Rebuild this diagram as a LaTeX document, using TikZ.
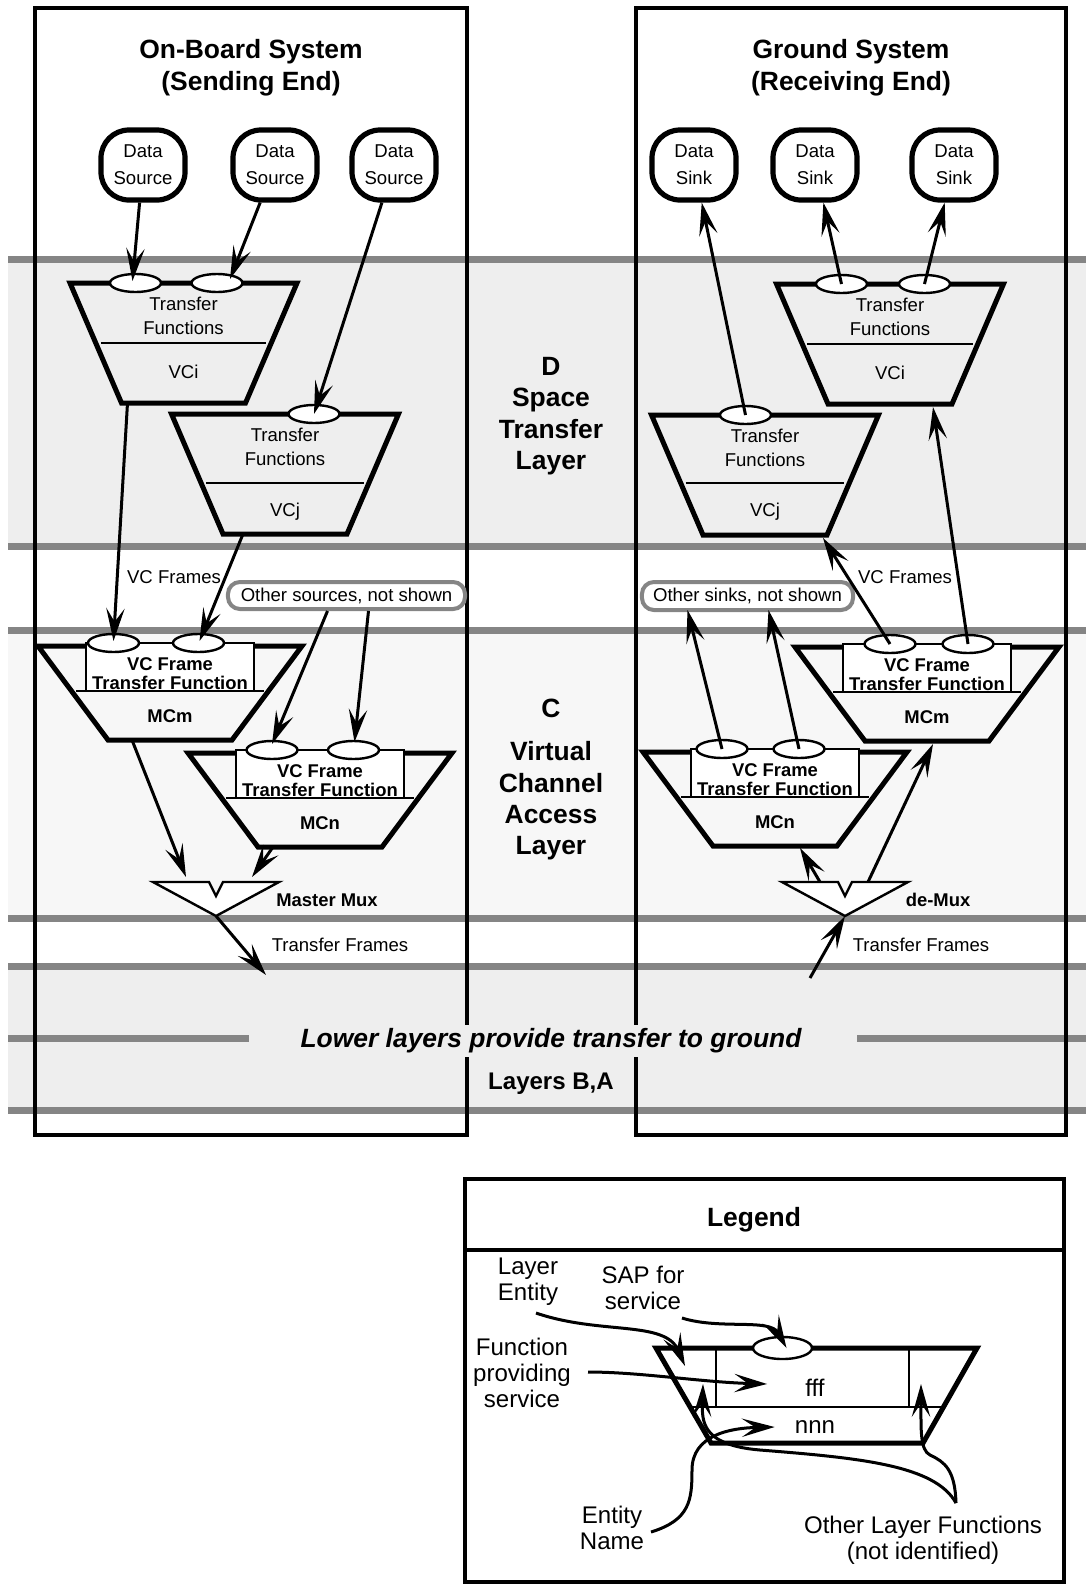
\documentclass[tikz,border=0pt]{standalone}
\usepackage{fontspec}
\setmainfont{Liberation Sans}
\usetikzlibrary{arrows.meta,calc,positioning,shapes.geometric}
\definecolor{layergray}{HTML}{858585}
\definecolor{bandD}{HTML}{EEEEEE}
\definecolor{bandC}{HTML}{F7F7F7}
\newcommand\hdfont{\fontsize{18.8}{22.3}\selectfont\bfseries}
\newcommand\txtfont{\fontsize{13.2}{17.1}\selectfont}
\newcommand\mcfont{\fontsize{13.1}{13.6}\selectfont\bfseries}
\newcommand\legfont{\fontsize{17.1}{18.5}\selectfont}

\begin{document}
\begin{tikzpicture}[x=0.025cm, y=-0.025cm,
    >={Stealth[length=0.82cm,width=0.46cm,inset=0.34cm]},
    sysbox/.style={line width=0.1cm},
    layerline/.style={draw=layergray, line width=0.175cm},
    entity/.style={line width=0.125cm},
    thinline/.style={line width=0.06cm},
    flow/.style={->, line width=0.075cm},
    endpoint/.style={draw, line width=0.13cm, rounded corners=0.7cm, minimum width=2.1cm, minimum height=1.75cm, align=center, inner sep=0pt, font=\fontsize{13.2}{19.2}\selectfont},
    sap/.style={draw, ellipse, fill=white, line width=0.06cm, minimum width=1.275cm, minimum height=0.45cm, inner sep=0pt},
    othbox/.style={draw=layergray, fill=white, line width=0.1cm, rounded corners=0.3cm, inner sep=0pt, font=\txtfont},
    txt/.style={font=\txtfont, inner sep=0pt},
    mctxt/.style={font=\mcfont, inner sep=0pt},
    headtxt/.style={font=\hdfont, align=center, inner sep=0pt},
    legtxt/.style={font=\legfont, align=center, inner sep=0pt},
    pics/vcent/.style 2 args={code={
        \draw[entity] (-113.5,0) -- (113.5,0) -- (62,120) -- (-62,120) -- cycle;
        \draw[thinline] ({-(108.5-51.5*#2/120)},#2) -- ({108.5-51.5*#2/120},#2);
        \node[txt, align=center] at (0,33) {Transfer\\Functions};
        \node[txt] at (0,#2+29) {#1};
        \coordinate (-b) at (0,120);
    }},
    pics/mcent/.style={code={
        \draw[entity] (-132,0) -- (132,0) -- (62,94) -- (-62,94) -- cycle;
        \draw[thinline] (-94,45) -- (94,45);
        \draw[thinline, fill=white] (-84,-3) rectangle (84,45);
        \node[mctxt, align=center] at (0,27.5) {VC Frame\\Transfer Function};
        \node[mctxt] at (0,70) {#1};
        \coordinate (-b) at (0,94);
    }},
    pics/muxent/.style={code={
        \draw[thinline, fill=white] (-63,0) -- (-7,0) -- (0,14) -- (7,0) -- (63,0) -- (0,34) -- cycle;
        \coordinate (-t) at (0,0);
        \coordinate (-o) at (0,34);
    }}
]
\useasboundingbox (0,0) rectangle (1086,1585);

% layer bands
\fill[bandD] (8,259) rectangle (1086,546);
\fill[bandC] (8,630) rectangle (1086,918);
\fill[bandD] (8,966) rectangle (1086,1110);
\foreach \y in {259,546,630,918,966,1110}
    \draw[layerline] (8,\y) -- (1086,\y);
\draw[layerline] (8,1038) -- (249,1038);
\draw[layerline] (857,1038) -- (1086,1038);

% the two end systems
\draw[sysbox] (35,8) rectangle (467,1135);
\draw[sysbox] (636,8) rectangle (1066,1135);
\node[headtxt, font=\fontsize{18.8}{22.8}\selectfont\bfseries] (sendtitle) at (251,68) {On-Board System\\(Sending End)};
\node[headtxt, font=\fontsize{18.8}{22.8}\selectfont\bfseries] (recvtitle) at (851,68) {Ground System\\(Receiving End)};
\node[headtxt] (layerD) at (551,416) {D\\Space\\Transfer\\Layer};
\node[headtxt] (layerCid) at (551,708) {C};
\node[headtxt] (layerC) at (551,801) {Virtual\\Channel\\Access\\Layer};
\node[headtxt, font=\hdfont\itshape, fill=bandD, inner ysep=0.1cm] (lower) at (551,1041) {Lower layers provide transfer to ground};
\node[headtxt, font=\fontsize{17.1}{20}\selectfont\bfseries] (layerBA) at (551,1084) {Layers B,A};

% sources and sinks
\node[endpoint] (srcA) at (143,165) {Data\\Source};
\node[endpoint] (srcB) at (275,165) {Data\\Source};
\node[endpoint] (srcC) at (394,165) {Data\\Source};
\node[endpoint] (sinkA) at (694,165) {Data\\Sink};
\node[endpoint] (sinkB) at (815,165) {Data\\Sink};
\node[endpoint] (sinkC) at (954,165) {Data\\Sink};

% layer entities
\pic (vciS) at (183.5,283) {vcent={VCi}{60}};
\pic (vcjS) at (285,414) {vcent={VCj}{69}};
\pic (mcmS) at (170,646) {mcent=MCm};
\pic (mcnS) at (320,753) {mcent=MCn};
\pic (muxS) at (216,882) {muxent};
\pic (vciR) at (890,284) {vcent={VCi}{60}};
\pic (vcjR) at (765,415) {vcent={VCj}{68}};
\pic (mcmR) at (927,647) {mcent=MCm};
\pic (mcnR) at (775,752) {mcent=MCn};
\pic (muxR) at (845,882) {muxent};

% service access points
\node[sap] (sapS1) at (135.5,283) {};
\node[sap] (sapS2) at (217,283) {};
\node[sap] (sapS3) at (314,414) {};
\node[sap] (sapS4) at (113.5,643) {};
\node[sap] (sapS5) at (198.5,643) {};
\node[sap] (sapS6) at (272,750) {};
\node[sap] (sapS7) at (353.5,750) {};
\node[sap] (sapR1) at (841.5,284) {};
\node[sap] (sapR2) at (924.5,284) {};
\node[sap] (sapR3) at (745.5,415) {};
\node[sap] (sapR4) at (890,644) {};
\node[sap] (sapR5) at (968,644) {};
\node[sap] (sapR6) at (722,749) {};
\node[sap] (sapR7) at (799,749) {};

\node[othbox, minimum width=5.925cm, minimum height=0.675cm] (othsrc) at (346.5,595.5) {Other sources, not shown};
\node[othbox, minimum width=5.275cm, minimum height=0.7cm] (othsink) at (747.5,596) {Other sinks, not shown};
\coordinate (tfS) at (266,975);
\coordinate (tfR) at (810,978);

% sending end
\draw[flow] (srcA) -- ($(sapS1)+(-3,-2)$);
\draw[flow] (srcB) -- ($(sapS2)+(13,-4)$);
\draw[flow] (srcC) -- (sapS3.center);
\draw[flow] ($(vciS-b)+(-56,0)$) -- ($(sapS4)+(0,-2)$);
\draw[flow] ($(vcjS-b)+(-42,0)$) -- ($(sapS5)+(1,-2)$);
\draw[flow] ($(othsrc.south)+(-19,0)$) -- ($(sapS6)+(0,-6)$);
\draw[flow] ($(othsrc.south)+(22,0)$) -- ($(sapS7)+(1,-8)$);
\draw[flow] ($(mcmS-b)+(-38,0)$) -- ($(muxS-t)+(-30,-5)$);
\draw[flow] ($(mcnS-b)+(-47,0)$) -- ($(muxS-t)+(36,-5)$);
\draw[flow] (muxS-o) -- (tfS);

% receiving end
\draw[flow] (tfR) -- (muxR-o);
\draw[flow] ($(muxR-t)+(-25,0)$) -- ($(mcnR-b)+(25,2)$);
\draw[flow] ($(muxR-t)+(23,0)$) -- ($(mcmR-b)+(6,3)$);
\draw[flow] (sapR6.center) -- ($(othsink.south)+(-60,-2)$);
\draw[flow] (sapR7.center) -- ($(othsink.south)+(21,-2)$);
\draw[flow] (sapR4.center) -- ($(vcjR-b)+(58,3)$);
\draw[flow] (sapR5.center) -- ($(vciR-b)+(43,3)$);
\draw[flow] (sapR3.center) -- (sinkA);
\draw[flow] (sapR1.center) -- (sinkB);
\draw[flow] (sapR2.center) -- (sinkC);

\node[txt] (vcfS) at (174,577) {VC Frames};
\node[txt] (vcfR) at (905,577) {VC Frames};
\node[mctxt] (muxSlbl) at (327,900) {Master Mux};
\node[mctxt] (muxRlbl) at (938,900) {de-Mux};
\node[txt] (tfSlbl) at (340,945) {Transfer Frames};
\node[txt] (tfRlbl) at (921,945) {Transfer Frames};

% legend
\draw[sysbox] (465,1179) rectangle (1064,1582);
\draw[sysbox] (465,1250) -- (1064,1250);
\node[headtxt] (legtitle) at (754,1220) {Legend};
\draw[entity] (656,1348) -- (977,1348) -- (923,1443) -- (711,1443) -- cycle;
\draw[thinline] (716,1348) -- (716,1407);
\draw[thinline] (909,1348) -- (909,1407);
\draw[thinline] (690,1407) -- (944,1407);
\node[sap, minimum width=1.475cm, minimum height=0.55cm] (legsap) at (782.5,1348) {};
\node[legtxt] (fff) at (815,1388) {fff};
\node[legtxt] (nnn) at (815,1427) {nnn};
\node[legtxt] (lentity) at (528,1282) {Layer\\Entity};
\node[legtxt] (lsap) at (643,1288) {SAP for\\service};
\node[legtxt] (lfunc) at (522,1373) {Function\\providing\\service};
\node[legtxt] (lname) at (612,1528) {Entity\\Name};
\node[legtxt] (lother) at (923,1540) {Other Layer Functions\\(not identified)};
\coordinate (le0) at (536,1313);
\coordinate (le1) at (685,1366);
\coordinate (ls0) at (682,1318);
\coordinate (lf0) at (588,1372);
\coordinate (ln0) at (651,1532);
\coordinate (lo0) at (956,1503);
\coordinate (loA) at (703,1384);
\coordinate (loB) at (921,1384);
\draw[flow] (le0) .. controls (600,1335) and (665,1320) .. (le1);
\draw[flow] (ls0) .. controls (720,1330) and (770,1318) .. ($(legsap)+(4,0)$);
\draw[flow] (lf0) .. controls (640,1372) and (700,1382) .. ($(fff.west)+(-38,-4)$);
\draw[flow] (ln0) .. controls (690,1520) and (692,1500) .. (692,1470) .. controls (692,1435) and (730,1428) .. ($(nnn.west)+(-20,0)$);
\draw[flow] (lo0) .. controls (935,1465) and (860,1458) .. (760,1450) .. controls (700,1445) and (702,1420) .. (loA);
\draw[flow] (lo0) .. controls (955,1470) and (945,1462) .. (930,1455) .. controls (920,1450) and (921,1430) .. (loB);
\end{tikzpicture}
\end{document}
